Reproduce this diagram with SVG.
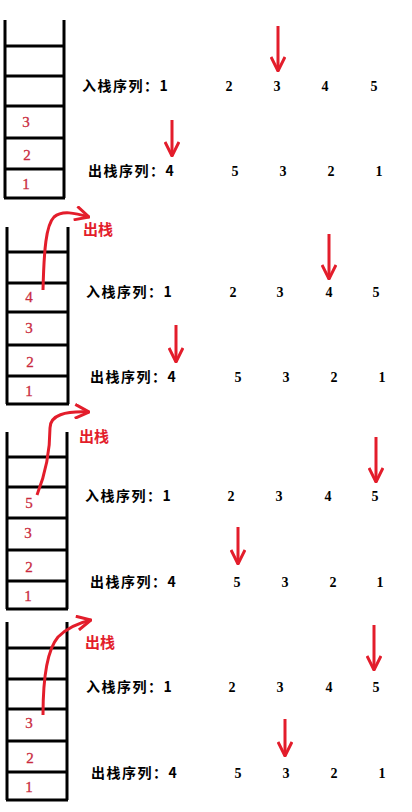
<svg xmlns="http://www.w3.org/2000/svg" width="412" height="812" viewBox="0 0 412 812">
<style>
.stk{stroke:#000;stroke-width:3;fill:none}
.arr{stroke:#e31d2b;stroke-width:3;fill:none;marker-end:url(#ah)}
.lbl{font-family:"Noto Sans CJK SC","Liberation Sans",sans-serif;font-weight:bold;font-size:14px;fill:#000;letter-spacing:1.5px}
.num{font-family:"Liberation Serif",serif;font-weight:bold;font-size:14px;fill:#000;text-anchor:middle}
.sn{font-family:"Liberation Serif",serif;font-size:15px;fill:#c92a3e;text-anchor:middle;stroke:#c92a3e;stroke-width:0.3}
.out{font-family:"Noto Sans CJK SC",sans-serif;font-weight:bold;font-size:15px;fill:#e31d2b}
</style>
<defs>
<marker id="ah" viewBox="0 0 16 16" refX="15" refY="8" markerWidth="16" markerHeight="16" markerUnits="userSpaceOnUse" orient="auto">
<path d="M1,1 L15,8 L1,15" stroke="#e31d2b" stroke-width="3" fill="none"/>
</marker>
</defs>
<rect width="412" height="812" fill="#fff"/>

<g id="stack1">
<path class="stk" d="M5,20 V198 M64,20 V198 M5,46 H64 M5,76 H64 M5,106 H64 M5,138 H64 M5,169 H64 M4,198 H65"/>
<text class="sn" x="26" y="127">3</text>
<text class="sn" x="27" y="160">2</text>
<text class="sn" x="26" y="189">1</text>
</g>
<g id="seq1">
<text class="lbl" x="82" y="91">入栈序列：1</text>
<text class="num" x="229" y="91">2</text><text class="num" x="277" y="91">3</text><text class="num" x="325" y="91">4</text><text class="num" x="374" y="91">5</text>
<text class="lbl" x="88" y="176">出栈序列：4</text>
<text class="num" x="235" y="176">5</text><text class="num" x="283" y="176">3</text><text class="num" x="331" y="176">2</text><text class="num" x="379" y="176">1</text>
</g>

<g id="stack2">
<path class="stk" d="M7,227 V404 M68,227 V404 M7,252 H68 M7,283 H68 M7,312 H68 M7,345 H68 M7,376 H68 M6,404 H69"/>
<text class="sn" x="29" y="302">4</text>
<text class="sn" x="29" y="333">3</text>
<text class="sn" x="30" y="367">2</text>
<text class="sn" x="29" y="396">1</text>
<text class="out" x="83" y="235">出栈</text>
</g>
<g id="seq2">
<text class="lbl" x="86" y="297">入栈序列：1</text>
<text class="num" x="233" y="297">2</text><text class="num" x="280" y="297">3</text><text class="num" x="329" y="297">4</text><text class="num" x="376" y="297">5</text>
<text class="lbl" x="90" y="382">出栈序列：4</text>
<text class="num" x="238" y="382">5</text><text class="num" x="286" y="382">3</text><text class="num" x="334" y="382">2</text><text class="num" x="382" y="382">1</text>
</g>

<g id="stack3">
<path class="stk" d="M7,432 V609 M67,432 V609 M7,457 H67 M7,487 H67 M7,518 H67 M7,550 H67 M7,581 H67 M6,609 H68"/>
<text class="sn" x="29" y="508">5</text>
<text class="sn" x="28" y="538">3</text>
<text class="sn" x="29" y="572">2</text>
<text class="sn" x="28" y="601">1</text>
<text class="out" x="79" y="442">出栈</text>
</g>
<g id="seq3">
<text class="lbl" x="85" y="501">入栈序列：1</text>
<text class="num" x="231" y="501">2</text><text class="num" x="279" y="501">3</text><text class="num" x="328" y="501">4</text><text class="num" x="375" y="501">5</text>
<text class="lbl" x="90" y="587">出栈序列：4</text>
<text class="num" x="237" y="587">5</text><text class="num" x="285" y="587">3</text><text class="num" x="333" y="587">2</text><text class="num" x="380" y="587">1</text>
</g>

<g id="stack4">
<path class="stk" d="M7,622 V800 M67,622 V800 M7,648 H67 M7,679 H67 M7,709 H67 M7,741 H67 M7,772 H67 M6,800 H68"/>
<text class="sn" x="29" y="728">3</text>
<text class="sn" x="30" y="763">2</text>
<text class="sn" x="29" y="792">1</text>
<text class="out" x="85" y="648">出栈</text>
</g>
<g id="seq4">
<text class="lbl" x="86" y="692">入栈序列：1</text>
<text class="num" x="232" y="692">2</text><text class="num" x="280" y="692">3</text><text class="num" x="329" y="692">4</text><text class="num" x="376" y="692">5</text>
<text class="lbl" x="91" y="778">出栈序列：4</text>
<text class="num" x="238" y="778">5</text><text class="num" x="286" y="778">3</text><text class="num" x="334" y="778">2</text><text class="num" x="382" y="778">1</text>
</g>

<g id="connectors">
<path class="arr" d="M278,26 V71"/>
<path class="arr" d="M172,120 V156"/>
<path class="arr" d="M43,290 C44,250 46,225 54,217 C62,210 75,213 89,217"/>
<path class="arr" d="M329,234 V279"/>
<path class="arr" d="M176,325 V362"/>
<path class="arr" d="M37,495 C47,470 50,450 50,428 C50,415 65,411 89,412"/>
<path class="arr" d="M376,437 V482"/>
<path class="arr" d="M238,527 V564"/>
<path class="arr" d="M43,715 C43,680 47,650 58,637 C68,627 78,623 91,620"/>
<path class="arr" d="M374,625 V670"/>
<path class="arr" d="M285,719 V756"/>
</g>
</svg>
